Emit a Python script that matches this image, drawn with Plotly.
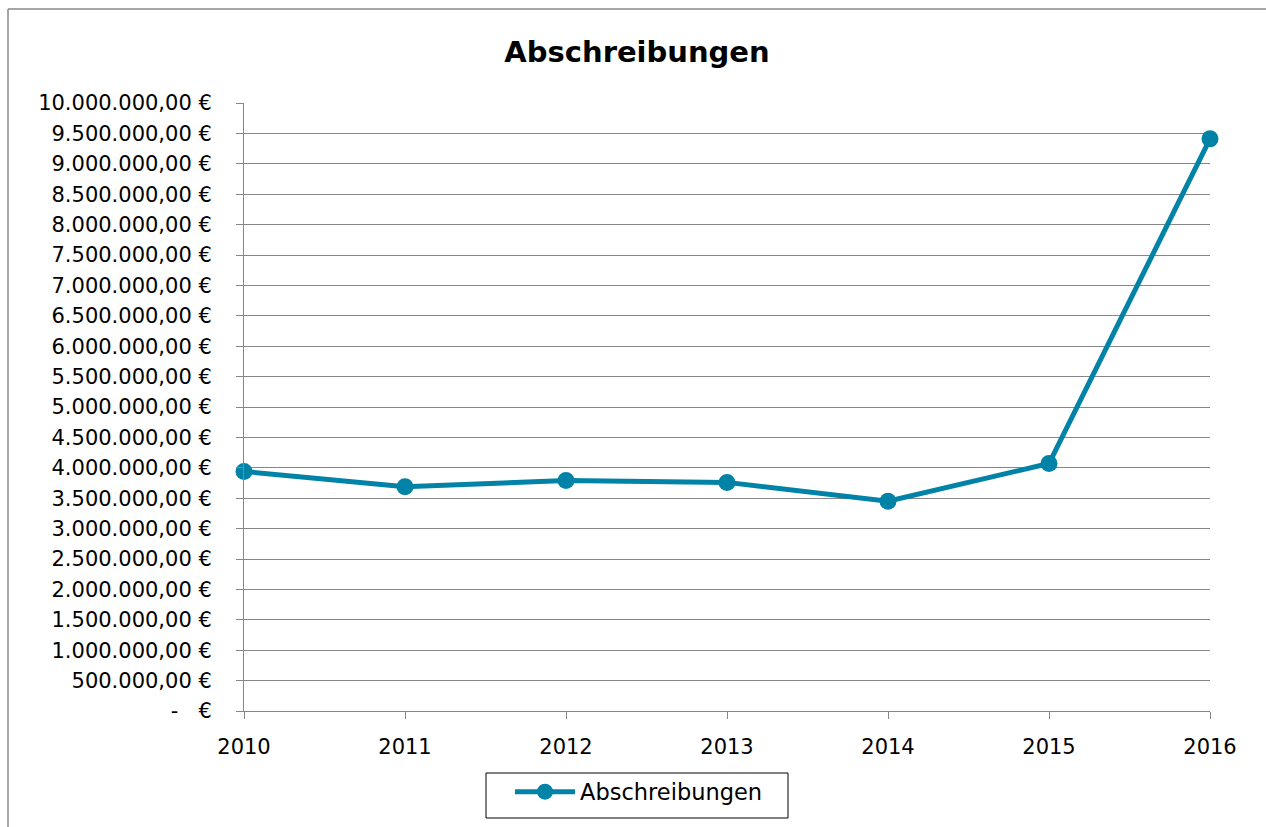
import plotly.graph_objects as go

years = [2010, 2011, 2012, 2013, 2014, 2015, 2016]
abschreibungen = [3940000, 3690000, 3790000, 3760000, 3450000, 4070000, 9410000]

y_ticks = list(range(0, 10000001, 500000))

def fmt(v):
    if v == 0:
        return "-\u00a0\u00a0\u00a0€"
    s = f"{v:,.2f}"
    s = s.replace(",", "X").replace(".", ",").replace("X", ".")
    return s + "\u00a0€"

y_text = [fmt(v) for v in y_ticks]

W, H = 1266, 827
L, T = 244, 103
R = W - 1210
B = H - 711
pw, ph = W - L - R, H - T - B

def px_x(p):
    return (p - L) / pw

def px_y(p):
    return (H - B - p) / ph

font_family = "'DejaVu Sans', Verdana, sans-serif"
color = "#0083A6"
grid = "#868686"

fig = go.Figure()
fig.add_trace(go.Scatter(
    x=years, y=abschreibungen, mode="lines+markers", name="Abschreibungen",
    line=dict(color=color, width=5),
    marker=dict(color=color, size=17),
    cliponaxis=False,
))

fig.update_layout(
    width=W, height=H,
    margin=dict(l=L, r=R, t=T, b=B),
    paper_bgcolor="white", plot_bgcolor="white",
    font=dict(family=font_family, size=21, color="black"),
    title=dict(text="<b>Abschreibungen</b>", x=px_x(637), xref="paper",
               xanchor="center", y=1 - 52 / H, yanchor="middle",
               font=dict(size=29, family=font_family, color="black")),
    showlegend=True,
    legend=dict(orientation="h", x=px_x(510), xanchor="left",
                y=px_y(792), yanchor="middle", borderwidth=0,
                font=dict(size=22.5), bgcolor="rgba(0,0,0,0)", itemwidth=60),
    xaxis=dict(range=[2010, 2016], tickvals=years, ticktext=[str(y) for y in years],
               showgrid=False, zeroline=False, showline=True, linecolor=grid,
               linewidth=1, ticks="outside", ticklen=7, tickcolor=grid,
               tickfont=dict(size=21), ticklabelstandoff=10),
    yaxis=dict(range=[0, 10000000], tickvals=y_ticks, ticktext=y_text,
               showgrid=True, gridcolor=grid, gridwidth=1, zeroline=False,
               showline=True, linecolor=grid, linewidth=1, ticks="outside",
               ticklen=7, tickcolor=grid, tickfont=dict(size=21),
               ticklabelstandoff=20),
    shapes=[
        dict(type="line", xref="paper", yref="paper",
             x0=px_x(8), x1=px_x(8), y0=px_y(9), y1=px_y(900),
             line=dict(color="#888888", width=1.5), layer="below"),
        dict(type="line", xref="paper", yref="paper",
             x0=px_x(8), x1=px_x(1400), y0=px_y(9), y1=px_y(9),
             line=dict(color="#888888", width=1.5), layer="below"),
        dict(type="rect", xref="paper", yref="paper",
             x0=px_x(486), x1=px_x(788), y0=px_y(773), y1=px_y(818),
             line=dict(color="black", width=1), fillcolor="white", layer="below"),
    ],
)

post = ("document.documentElement.style.overflow='hidden';"
        "document.body.style.margin='0';document.body.style.overflow='hidden';")
fig.write_html("out.html", post_script=post, config={"displayModeBar": False})
